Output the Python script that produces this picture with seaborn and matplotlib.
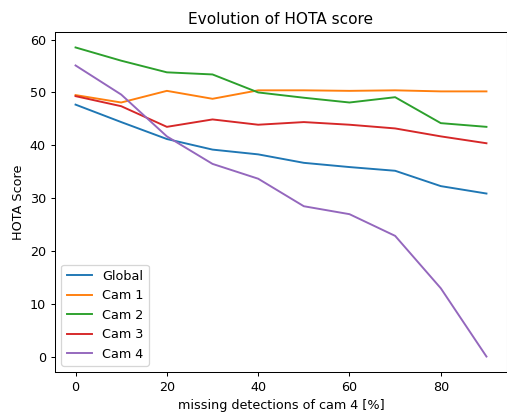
import matplotlib
matplotlib.use("Agg")
import matplotlib.pyplot as plt
import seaborn as sns
import pandas as pd

missing = [0, 10, 20, 30, 40, 50, 60, 70, 80, 90]
series_names = ["Global", "Cam 1", "Cam 2", "Cam 3", "Cam 4"]
hota_global = [47.7, 44.4, 41.2, 39.2, 38.3, 36.7, 35.9, 35.2, 32.3, 30.9]
hota_cam1 = [49.5, 48.1, 50.3, 48.8, 50.4, 50.4, 50.3, 50.4, 50.2, 50.2]
hota_cam2 = [58.5, 56.0, 53.8, 53.4, 50.0, 49.0, 48.1, 49.1, 44.2, 43.5]
hota_cam3 = [49.3, 47.4, 43.5, 44.9, 43.9, 44.4, 43.9, 43.2, 41.7, 40.4]
hota_cam4 = [55.1, 49.6, 41.7, 36.5, 33.7, 28.5, 27.0, 22.9, 13.0, 0.1]

values = [hota_global, hota_cam1, hota_cam2, hota_cam3, hota_cam4]
rows = []
for name, vals in zip(series_names, values):
    for m, v in zip(missing, vals):
        rows.append({"missing": m, "HOTA": v, "series": name})
df = pd.DataFrame(rows)

DPI = 92
fig = plt.figure(figsize=(508 / DPI, 412 / DPI), dpi=DPI)
ax = fig.add_axes([55 / 508, 40 / 412, 452 / 508, 340 / 412])

sns.lineplot(data=df, x="missing", y="HOTA", hue="series",
             hue_order=series_names, palette=sns.color_palette("tab10", 5),
             ax=ax, linewidth=1.5)

ax.set_title("Evolution of HOTA score")
ax.set_xlabel("missing detections of cam 4 [%]")
ax.set_ylabel("HOTA Score")
ax.legend(loc="lower left")

fig.savefig("out.png", dpi=DPI)
